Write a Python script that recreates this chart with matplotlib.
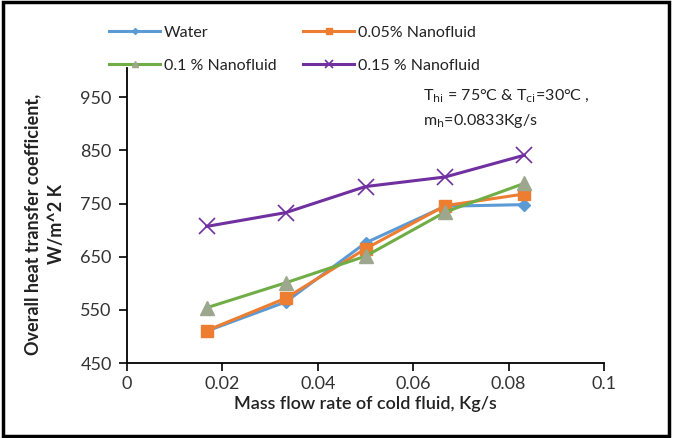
import matplotlib.pyplot as plt
from matplotlib.patches import Rectangle

# --- DATA ---
flow = [0.0167, 0.0333, 0.05, 0.0667, 0.0833]
water = [510, 565, 676, 745, 748]
nf_005 = [511, 572, 665, 746, 768]
nf_01 = [554, 601, 651, 734, 788]
nf_015 = [707, 733, 782, 800, 841]

x_ticks = [0, 0.02, 0.04, 0.06, 0.08, 0.1]
x_labels = ['0', '0.02', '0.04', '0.06', '0.08', '0.1']
y_ticks = [450, 550, 650, 750, 850, 950]

plt.rcParams['font.family'] = ['Lato', 'DejaVu Sans']

fig = plt.figure(figsize=(6.73, 4.38), dpi=100)
ax = fig.add_axes([0.1887, 0.1712, 0.7088, 0.6735])

h_w, = ax.plot(flow, water, color='#5B9BD5', lw=2.2, marker='D', ms=6,
               mfc='#5B9BD5', mec='#5B9BD5', label='Water', zorder=3)
h_5, = ax.plot(flow, nf_005, color='#ED7D31', lw=2.2, marker='s', ms=9,
               mfc='#ED7D31', mec='#ED7D31', label='0.05% Nanofluid', zorder=4)
h_10, = ax.plot(flow, nf_01, color='#70AD47', lw=2.2, marker='^', ms=10,
                mfc='#9DA78D', mec='#9DA78D', label='0.1 % Nanofluid', zorder=5)
h_15, = ax.plot(flow, nf_015, color='#7030A0', lw=2.2, marker='x', ms=11, mew=1.2,
                mec='#7030A0', label='0.15 % Nanofluid', zorder=6)

ax.set_xlim(0, 0.1)
ax.set_ylim(450, 1005)
ax.set_xticks(x_ticks)
ax.set_xticklabels(x_labels)
ax.set_yticks(y_ticks)
ax.tick_params(direction='out', length=6, width=1.2, labelsize=13,
               colors='black', labelcolor='#333333')
ax.tick_params(axis='y', pad=5)
ax.spines['top'].set_visible(False)
ax.spines['right'].set_visible(False)
for s in ('left', 'bottom'):
    ax.spines[s].set_linewidth(1.3)

ax.set_xlabel('Mass flow rate of cold fluid, Kg/s', fontsize=13,
              color='#222222', labelpad=3, fontweight='semibold')
ax.set_ylabel('Overall heat transfer coefficient,\nW/m^2 K', fontsize=13,
              fontweight='bold', color='#222222', linespacing=1.45)
ax.yaxis.set_label_coords(-0.13, 0.47)

ax.text(0.062, 951, r'T$_{\mathrm{hi}}$ = 75°C & T$_{\mathrm{ci}}$=30°C ,',
        fontsize=11.5, color='#222222', va='center')
ax.text(0.062, 906, r'm$_{\mathrm{h}}$=0.0833Kg/s',
        fontsize=11.5, color='#222222', va='center')

# legend fills column-wise, so order handles to read row by row
leg = fig.legend([h_w, h_10, h_5, h_15],
                 ['Water', '0.1 % Nanofluid', '0.05% Nanofluid', '0.15 % Nanofluid'],
                 loc='upper left', bbox_to_anchor=(0.141, 0.975), ncol=2,
                 frameon=False, fontsize=11.5, handlelength=3.2,
                 columnspacing=1.7, handletextpad=0.2, labelspacing=1.2,
                 markerscale=0.5)
for t in leg.get_texts():
    t.set_color('#222222')

fig.patches.append(Rectangle((0.004, 0.005), 0.99, 0.99, transform=fig.transFigure,
                             fill=False, edgecolor='black', lw=2.5))

fig.savefig('out.png', dpi=100)
